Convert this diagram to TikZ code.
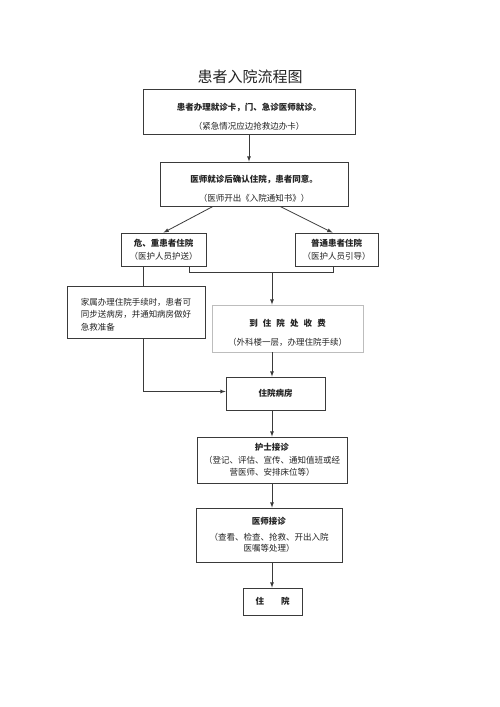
\documentclass[tikz,border=0pt]{standalone}
\usepackage{fontspec}
\setmainfont{Noto Sans CJK SC}
\usepackage{tikz}
\usetikzlibrary{arrows,calc}

\definecolor{boxline}{HTML}{3A3A3A}
\definecolor{paleline}{HTML}{BDBDBD}
\definecolor{textc}{HTML}{222222}

\newcommand{\textdrop}[1]{\rule{0pt}{#1}}

\tikzset{
  box/.style={draw=boxline, line width=0.8pt, align=center, inner sep=0pt,
    font=\fontsize{8.5}{12.5}\selectfont, text=textc},
  link/.style={draw=boxline, line width=0.8pt},
}

\begin{document}
\begin{tikzpicture}[x=1pt, y=-1pt, >=latex]
      \useasboundingbox (0,0) rectangle (500,707);

      \node [font=\fontsize{15}{18}\selectfont, text=textc] (title) at (250,77) {患者入院流程图};

      \node [box, minimum width=212pt, minimum height=45pt] (reg) at (249,111.5)
        {\textdrop{17.5pt}\textbf{患者办理就诊卡，门、急诊医师就诊。}\\[6.5pt]（紧急情况应边抢救边办卡）};
      \node [box, minimum width=188pt, minimum height=44pt] (confirm) at (254,184)
        {\textdrop{16pt}\textbf{医师就诊后确认住院，患者同意。}\\[6.5pt]（医师开出《入院通知书》）};

      \node [box, minimum width=85pt, minimum height=33pt] (crit) at (163.5,249.5)
        {\textbf{危、重患者住院}\\（医护人员护送）};
      \node [box, minimum width=83pt, minimum height=33pt] (norm) at (336.5,249.5)
        {\textbf{普通患者住院}\\（医护人员引导）};

      \node [box, minimum width=138pt, minimum height=52pt, align=left] (family) at (136,312)
        {\textdrop{12pt}家属办理住院手续时，患者可\\同步送病房，并通知病房做好\\急救准备};
      \node [box, draw=paleline, minimum width=151pt, minimum height=47pt] (pay) at (287.5,328.5)
        {\textdrop{15.5pt}\textbf{到\hspace{0.6em}住\hspace{0.6em}院\hspace{0.6em}处\hspace{0.6em}收\hspace{0.6em}费}\\[6.5pt]（外科楼一层，办理住院手续）};

      \node [box, minimum width=99pt, minimum height=33pt] (ward) at (275.5,393.5) {\textbf{住院病房}};
      \node [box, minimum width=150pt, minimum height=46pt] (nurse) at (272,460)
        {\textbf{护士接诊}\\（登记、评估、宣传、通知值班或经\\营医师、安排床位等）};
      \node [box, minimum width=146pt, minimum height=54pt, font=\fontsize{8.5}{11.5}\selectfont] (doctor) at (269,535)
        {\textbf{医师接诊}\\[4pt]（查看、检查、抢救、开出入院\\医嘱等处理）};
      \node [box, minimum width=59pt, minimum height=27pt] (inpat) at (272.5,601.5)
        {\textbf{住\hspace{2em}院}};

      \coordinate (axis) at (272,272.5);
      \coordinate (side) at (143,0);

      \draw [link, ->] (reg.south) -- (reg.south |- confirm.north);
      \draw [link, ->] ([xshift=-41pt]confirm.south) -- (crit.north);
      \draw [link, ->] ([xshift=26pt]confirm.south) -- ([xshift=-4pt]norm.north);

      \draw [link] ([xshift=25.5pt]crit.south) |- (axis) -| ([xshift=-3.5pt]norm.south);
      \draw [link, ->] (axis) -- (axis |- pay.north);

      \draw [link] (crit.south -| side) -- (family.north -| side);
      \draw [link, ->] (family.south -| side) |- ([yshift=2pt]ward.west);

      \draw [link, ->] (axis |- pay.south) -- (axis |- ward.north);
      \draw [link, ->] (axis |- ward.south) -- (axis |- nurse.north);
      \draw [link, ->] (axis |- nurse.south) -- (axis |- doctor.north);
      \draw [link, ->] (axis |- doctor.south) -- (axis |- inpat.north);
    \end{tikzpicture}
\end{document}
